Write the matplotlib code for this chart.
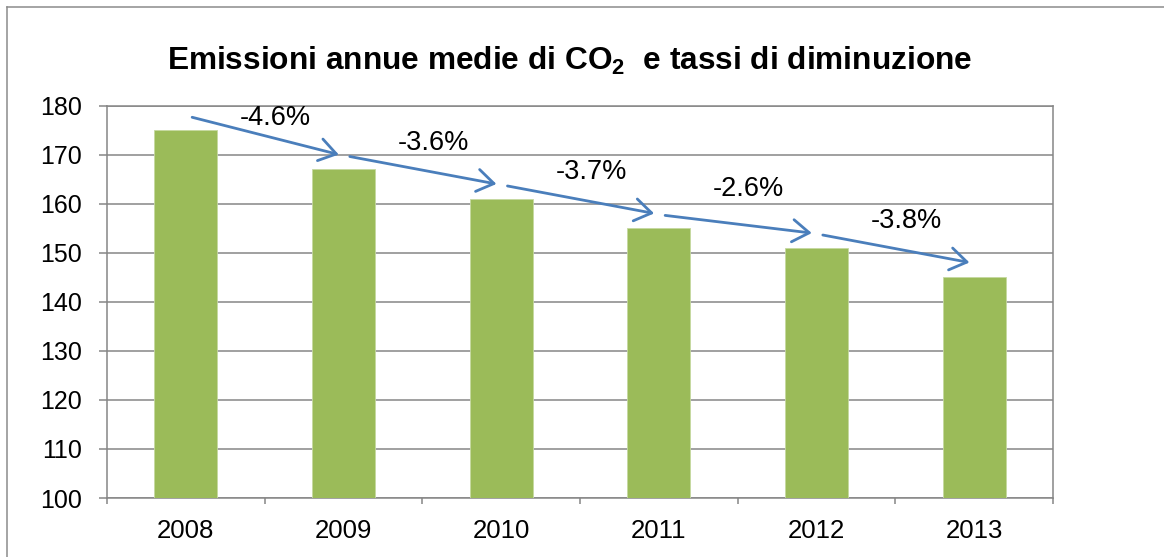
import matplotlib
matplotlib.use("Agg")
import matplotlib.pyplot as plt
from matplotlib.lines import Line2D

plt.rcParams['font.family'] = ['Liberation Sans', 'DejaVu Sans']
plt.rcParams['mathtext.default'] = 'regular'

years = ['2008', '2009', '2010', '2011', '2012', '2013']
emissions = [175, 167, 161, 155, 151, 145]
rate_labels = ['-4.6%', '-3.6%', '-3.7%', '-2.6%', '-3.8%']
title = 'Emissioni annue medie di CO$_2$  e tassi di diminuzione'

# label placement (data coords, centre of text)
label_dx = 0.57
label_y = [177.4, 172.3, 166.4, 163.0, 156.5]

GRID = '#868686'
BAR = '#9BBB59'
ARROW = '#4A7EBB'

fig = plt.figure(figsize=(11.64, 5.57), dpi=100)
ax = fig.add_axes([107/1164, 1-498/557, (1053-107)/1164, (498-105.5)/557])

x = list(range(len(years)))
ax.bar(x, emissions, width=0.40, color=BAR, edgecolor='#C5D9A0', linewidth=0.6, zorder=3)

ax.set_ylim(100, 180)
ax.set_xlim(-0.5, len(years)-0.5)
ax.set_yticks(range(100, 181, 10))
ax.set_xticks(x)
ax.set_xticklabels(years)
ax.set_xticks([i - 0.5 for i in range(len(years)+1)], minor=True)

ax.yaxis.grid(True, color=GRID, linewidth=1.1, zorder=0)
ax.set_axisbelow(True)
for s in ax.spines.values():
    s.set_color(GRID)
    s.set_linewidth(1.1)

ax.tick_params(axis='y', which='major', length=5.8, width=1.1, color=GRID,
               labelsize=18, pad=12.5, direction='out')
ax.tick_params(axis='x', which='major', length=0, labelsize=18.5, pad=15)
ax.tick_params(axis='x', which='minor', length=4.5, width=1.1, color=GRID, direction='out')

# arrows between consecutive bars
for i in range(len(years)-1):
    x0, y0 = i + 0.04, emissions[i] + 2.6
    x1, y1 = i + 0.97, emissions[i+1] + 3.0
    ax.annotate('', xy=(x1, y1), xytext=(x0, y0),
                arrowprops=dict(arrowstyle='->,head_length=0.6,head_width=0.4',
                                color=ARROW, lw=2.0, mutation_scale=20,
                                shrinkA=0, shrinkB=0),
                annotation_clip=False, zorder=5)
    ax.text(i + label_dx, label_y[i], rate_labels[i], ha='center', va='center',
            fontsize=19.5, color='black', zorder=6)

fig.text(570/1164, 1-69.5/557, title, ha='center', va='baseline',
         fontsize=22.8, fontweight='bold')

# outer chart border (top and left visible)
bx, by = 6.5/1164, 1-6.5/557
fig.add_artist(Line2D([bx, 1.0], [by, by], transform=fig.transFigure, color='#8C8C8C', lw=1.1))
fig.add_artist(Line2D([bx, bx], [0.0, by], transform=fig.transFigure, color='#8C8C8C', lw=1.1))

fig.savefig('out.png', dpi=100)
